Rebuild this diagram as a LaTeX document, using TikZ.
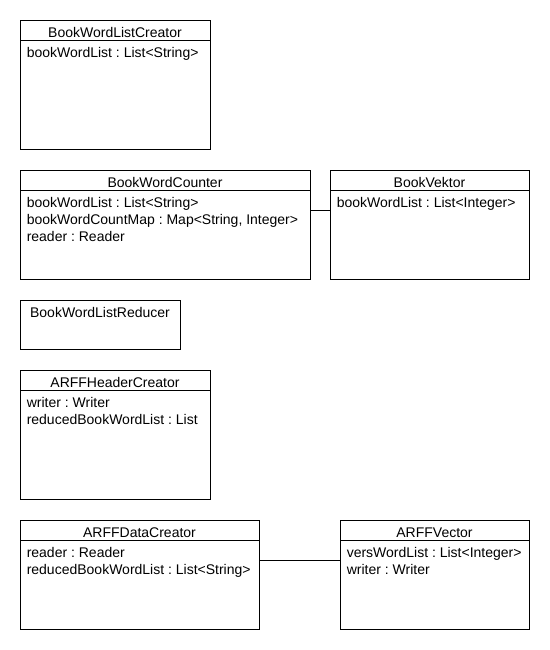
\documentclass[tikz,border=0pt]{standalone}
\usepackage{fontspec}
\setmainfont{Liberation Sans}
\frenchspacing
\begin{document}
\begin{tikzpicture}[x=0.75pt,y=-0.75pt,
  cls/.style={draw=black, line width=0.75pt, rectangle, anchor=north west, inner sep=0pt, outer sep=0pt, fill=white},
  sep/.style={draw=black, line width=0.75pt},
  conn/.style={draw=black, line width=0.75pt},
  hd/.style={anchor=base, inner sep=0pt, font=\fontsize{10.5pt}{12.75pt}\selectfont\frenchspacing},
  attr/.style={anchor=base west, inner sep=0pt, align=left, font=\fontsize{10.5pt}{12.75pt}\selectfont\frenchspacing}]
\useasboundingbox[fill=white] (0,0) rectangle (550,650);
% boxes
\node[cls, minimum width=142.5pt, minimum height=96.75pt] (c1) at (20,20) {};
\node[cls, minimum width=217.5pt, minimum height=81.75pt] (c2) at (20,170) {};
\node[cls, minimum width=149.25pt, minimum height=81.75pt] (c3) at (330,170) {};
\node[cls, minimum width=120pt, minimum height=36.75pt] (c4) at (20,300) {};
\node[cls, minimum width=142.5pt, minimum height=96.75pt] (c5) at (20,370) {};
\node[cls, minimum width=179.25pt, minimum height=81.75pt] (c6) at (20,520) {};
\node[cls, minimum width=141.75pt, minimum height=81.75pt] (c7) at (340,520) {};
% separators
\foreach \c in {c1,c2,c3,c5,c6,c7}{
  \draw[sep] ([yshift=-15pt]\c.north west) -- ([yshift=-15pt]\c.north east);
}
% headings
\node[hd] (h1) at ([yshift=-13.125pt]c1.north) {BookWordListCreator};
\node[hd] (h2) at ([yshift=-13.125pt]c2.north) {BookWordCounter};
\node[hd] (h3) at ([yshift=-13.125pt]c3.north) {BookVektor};
\node[hd] (h4) at ([yshift=-13.125pt]c4.north) {BookWordListReducer};
\node[hd] (h5) at ([yshift=-13.125pt]c5.north) {ARFFHeaderCreator};
\node[hd] (h6) at ([yshift=-13.125pt]c6.north) {ARFFDataCreator};
\node[hd] (h7) at ([yshift=-13.125pt]c7.north) {ARFFVector};
% attributes
\node[attr] (a1) at ([shift={(6.5,37.5)}]c1.north west) {bookWordList : List<String>};
\node[attr] (a2a) at ([shift={(6.5,37.5)}]c2.north west) {bookWordList : List<String>};
\node[attr] (a2b) at ([shift={(6.5,54.5)}]c2.north west) {bookWordCountMap : Map<String, Integer>};
\node[attr] (a2c) at ([shift={(6.5,71.5)}]c2.north west) {reader : Reader};
\node[attr] (a3) at ([shift={(6.5,37.5)}]c3.north west) {bookWordList : List<Integer>};
\node[attr] (a5a) at ([shift={(6.5,37.5)}]c5.north west) {writer : Writer};
\node[attr] (a5b) at ([shift={(6.5,54.5)}]c5.north west) {reducedBookWordList : List};
\node[attr] (a6a) at ([shift={(6.5,37.5)}]c6.north west) {reader : Reader};
\node[attr] (a6b) at ([shift={(6.5,54.5)}]c6.north west) {reducedBookWordList : List<String>};
\node[attr] (a7a) at ([shift={(6.5,37.5)}]c7.north west) {versWordList : List<Integer>};
\node[attr] (a7b) at ([shift={(6.5,54.5)}]c7.north west) {writer : Writer};
% connectors
\draw[conn] ([yshift=-30pt]c2.north east) -- ([yshift=-30pt]c3.north west);
\draw[conn] ([yshift=-30pt]c6.north east) -- ([yshift=-30pt]c7.north west);
\end{tikzpicture}
\end{document}
